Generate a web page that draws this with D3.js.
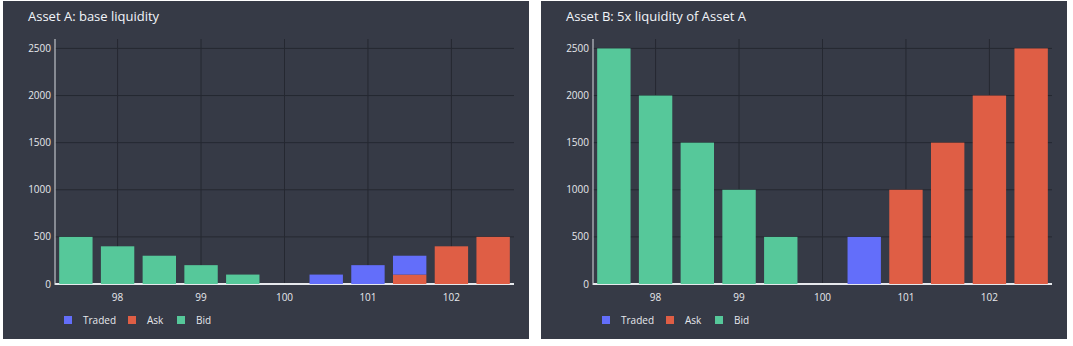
<!DOCTYPE html>
<html>
<head>
<meta charset="utf-8">
<script src="https://cdn.jsdelivr.net/npm/d3@7"></script>
<style>
  html, body { margin: 0; padding: 0; background: #ffffff; }
  svg { display: block; font-family: "Open Sans", "Noto Sans", sans-serif; }
</style>
</head>
<body>
<svg id="chart" width="1073" height="346"></svg>
<script>
// ---- data ----
const prices = [97.5, 98, 98.5, 99, 99.5, 100, 100.5, 101, 101.5, 102, 102.5];
const xTicks = [98, 99, 100, 101, 102];
const yTicks = [0, 500, 1000, 1500, 2000, 2500];
const seriesNames = ["Traded", "Ask", "Bid"];

const titleA = "Asset A: base liquidity";
const bidA    = [500, 400, 300, 200, 100, 0, 0, 0, 0, 0, 0];
const askA    = [0, 0, 0, 0, 0, 0, 0, 0, 100, 400, 500];
const tradedA = [0, 0, 0, 0, 0, 0, 100, 200, 200, 0, 0];

const titleB = "Asset B: 5x liquidity of Asset A";
const bidB    = [2500, 2000, 1500, 1000, 500, 0, 0, 0, 0, 0, 0];
const askB    = [0, 0, 0, 0, 0, 0, 0, 1000, 1500, 2000, 2500];
const tradedB = [0, 0, 0, 0, 0, 0, 500, 0, 0, 0, 0];

const colors = { Traded: "#636efa", Ask: "#df5e45", Bid: "#56c89a" };

const svg = d3.select("#chart");

function panel(px, pw, title, bid, ask, traded) {
  const g = svg.append("g").attr("transform", `translate(${px},0)`);
  const ph = 339;
  g.append("rect").attr("x", 0).attr("y", 1).attr("width", pw).attr("height", ph - 1)
    .attr("fill", "#363a46");

  const left = 52, right = 511, top = 39, bottom = 284;
  const x = d3.scaleLinear().domain([97.25, 102.75]).range([left, right]);
  const y = d3.scaleLinear().domain([0, 2600]).range([bottom, top]);
  const step = x(prices[1]) - x(prices[0]);
  const bw = step * 0.8;

  // grid
  const grid = g.append("g");
  grid.selectAll("line.v").data(xTicks).join("line")
    .attr("x1", d => x(d)).attr("x2", d => x(d)).attr("y1", top).attr("y2", bottom)
    .attr("stroke", "#252831").attr("stroke-width", 1);
  grid.selectAll("line.h").data(yTicks.filter(d => d > 0)).join("line")
    .attr("x1", left).attr("x2", right).attr("y1", d => y(d)).attr("y2", d => y(d))
    .attr("stroke", "#252831").attr("stroke-width", 1);

  // zero line (under bars)
  g.append("line").attr("x1", left).attr("x2", right).attr("y1", y(0)).attr("y2", y(0))
    .attr("stroke", "#e6e8ec").attr("stroke-width", 2);

  // stacked bars
  const rows = prices.map((p, i) => ({ price: p, Ask: ask[i], Traded: traded[i], Bid: bid[i] }));
  const stack = d3.stack().keys(["Ask", "Traded", "Bid"])(rows);
  stack.forEach(layer => {
    g.append("g").selectAll("rect").data(layer.filter(d => d[1] - d[0] > 0)).join("rect")
      .attr("x", d => x(d.data.price) - bw / 2)
      .attr("width", bw)
      .attr("y", d => y(d[1]))
      .attr("height", d => y(d[0]) - y(d[1]))
      .attr("fill", colors[layer.key]);
  });

  // y axis line
  g.append("line").attr("x1", left).attr("x2", left).attr("y1", top).attr("y2", bottom + 1)
    .attr("stroke", "#d8dbe0").attr("stroke-width", 1);

  // tick labels
  g.append("g").selectAll("text").data(yTicks).join("text")
    .attr("x", left - 4).attr("y", d => y(d)).attr("dy", "0.35em")
    .attr("text-anchor", "end").attr("font-size", 10).attr("fill", "#e6e8ec")
    .text(d => d);
  g.append("g").selectAll("text").data(xTicks).join("text")
    .attr("x", d => x(d)).attr("y", 297).attr("dy", "0.35em")
    .attr("text-anchor", "middle").attr("font-size", 10).attr("fill", "#e6e8ec")
    .text(d => d);

  // title
  g.append("text").attr("x", 25).attr("y", 21).attr("font-size", 13)
    .attr("fill", "#f2f5fa").text(title);

  // legend
  const legX = [61, 125, 174];
  const lg = g.append("g").selectAll("g").data(seriesNames).join("g")
    .attr("transform", (d, i) => `translate(${legX[i]},320)`);
  lg.append("rect").attr("x", 0).attr("y", -4).attr("width", 8).attr("height", 8)
    .attr("fill", d => colors[d]);
  lg.append("text").attr("x", 19).attr("y", 0).attr("dy", "0.35em")
    .attr("font-size", 10).attr("fill", "#e6e8ec").text(d => d);
}

panel(3, 526, titleA, bidA, askA, tradedA);
panel(541, 526, titleB, bidB, askB, tradedB);
</script>
</body>
</html>
